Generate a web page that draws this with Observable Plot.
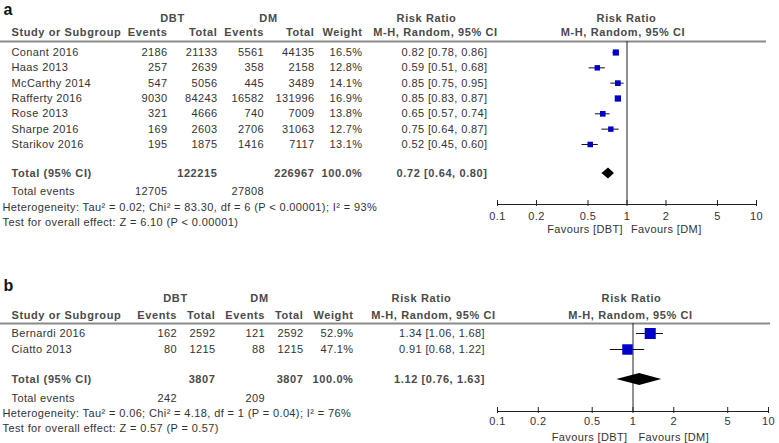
<!DOCTYPE html>
<html>
<head>
<meta charset="utf-8">
<script src="https://cdn.jsdelivr.net/npm/d3@7"></script>
<script src="https://cdn.jsdelivr.net/npm/@observablehq/plot@0.6"></script>
<style>
  html, body { margin: 0; padding: 0; background: #fff; }
  #chart { width: 779px; height: 443px; position: relative; overflow: hidden; font-family: "Liberation Sans", Arial, sans-serif; }
  #chart svg { display: block; }
  #chart svg text { letter-spacing: 0.38px; }
  #chart svg g[font-weight="bold"] text { letter-spacing: 0.6px; }
  #chart svg g.letter text { letter-spacing: 0; }
</style>
</head>
<body>
<div id="chart"></div>
<script>
// ---------- Panel a data ----------
const studiesA   = ["Conant 2016", "Haas 2013", "McCarthy 2014", "Rafferty 2016", "Rose 2013", "Sharpe 2016", "Starikov 2016"];
const dbtEventsA = [2186, 257, 547, 9030, 321, 169, 195];
const dbtTotalA  = [21133, 2639, 5056, 84243, 4666, 2603, 1875];
const dmEventsA  = [5561, 358, 445, 16582, 740, 2706, 1416];
const dmTotalA   = [44135, 2158, 3489, 131996, 7009, 31063, 7117];
const weightA    = [16.5, 12.8, 14.1, 16.9, 13.8, 12.7, 13.1];
const rrA        = [0.82, 0.59, 0.85, 0.85, 0.65, 0.75, 0.52];
const rrLowA     = [0.78, 0.51, 0.75, 0.83, 0.57, 0.64, 0.45];
const rrHighA    = [0.86, 0.68, 0.95, 0.87, 0.74, 0.87, 0.60];
const totalsA    = [122215, 226967];          // DBT total, DM total
const totalEventsA = [12705, 27808];          // DBT events, DM events
const pooledA    = [0.72, 0.64, 0.80];        // RR, low, high
const hetA  = "Heterogeneity: Tau\u00B2 = 0.02; Chi\u00B2 = 83.30, df = 6 (P < 0.00001); I\u00B2 = 93%";
const testA = "Test for overall effect: Z = 6.10 (P < 0.00001)";

// ---------- Panel b data ----------
const studiesB   = ["Bernardi 2016", "Ciatto 2013"];
const dbtEventsB = [162, 80];
const dbtTotalB  = [2592, 1215];
const dmEventsB  = [121, 88];
const dmTotalB   = [2592, 1215];
const weightB    = [52.9, 47.1];
const rrB        = [1.34, 0.91];
const rrLowB     = [1.06, 0.68];
const rrHighB    = [1.68, 1.22];
const totalsB    = [3807, 3807];
const totalEventsB = [242, 209];
const pooledB    = [1.12, 0.76, 1.63];
const hetB  = "Heterogeneity: Tau\u00B2 = 0.06; Chi\u00B2 = 4.18, df = 1 (P = 0.04); I\u00B2 = 76%";
const testB = "Test for overall effect: Z = 0.57 (P = 0.57)";

// ---------- Axis ticks ----------
const axisTicks  = [0.1, 0.2, 0.5, 1, 2, 5, 10];
const axisLabels = ["0.1", "0.2", "0.5", "1", "2", "5", "10"];

const TXT = "#333";
const BOLD = "#4a4a4a";
const BLUE = "#0000c8";
const f2 = v => v.toFixed(2);

function drawPanel(P) {
  const row = px => (px - P.row0) / P.step;   // layout helper: pixel -> row units
  const rows = P.studies.map((s, i) => ({
    i, s, de: String(P.dbtEv[i]), dt: String(P.dbtTot[i]), me: String(P.dmEv[i]), mt: String(P.dmTot[i]),
    w: P.weight[i].toFixed(1) + "%", wv: P.weight[i],
    rr: P.rr[i], lo: P.lo[i], hi: P.hi[i],
    rrText: `${f2(P.rr[i])} [${f2(P.lo[i])}, ${f2(P.hi[i])}]`
  }));
  const L = P.layout, C = P.cols;
  const col = (text, dx, anchor = "end") =>
    Plot.text(rows, {y: "i", text, frameAnchor: "left", dx, textAnchor: anchor, fill: TXT});
  const lab = (t, px, dx, anchor, bold, extra = {}) =>
    Plot.text([t], {y: row(px), text: d => d, frameAnchor: "left", dx, textAnchor: anchor,
      fill: bold ? BOLD : TXT, fontWeight: bold ? "bold" : "normal", ...extra});
  const rTot = row(L.total);
  const h = L.diamondHalf / P.step;
  const diamond = [
    {x: P.pooled[1], y1: rTot, y2: rTot},
    {x: P.pooled[0], y1: rTot - h, y2: rTot + h},
    {x: P.pooled[2], y1: rTot, y2: rTot}
  ];
  return Plot.plot({
    width: 779, height: P.height, margin: 0,
    style: {fontFamily: '"Liberation Sans", Arial, sans-serif', fontSize: "11px", background: "#fff", overflow: "visible"},
    x: {type: "log", domain: [0.1, 10], range: P.xRange, axis: null},
    y: {domain: [0, 1], range: [P.row0, P.row0 + P.step], axis: null},
    r: {type: "sqrt", domain: [0, 100], range: [0, 8.58]},
    marks: [
      // panel letter
      Plot.text([P.letter], {y: row(L.letter), text: d => d, frameAnchor: "left", dx: 3, textAnchor: "start",
        lineAnchor: "top", fontWeight: "bold", fontSize: 16, fill: "#111", className: "letter"}),
      // header rows
      lab("DBT", L.h1, C.dbtMid, "middle", true),
      lab("DM", L.h1, C.dmMid, "middle", true),
      lab("Risk Ratio", L.h1, C.rrHead1, "middle", true),
      lab("Risk Ratio", L.h1, C.rrHead2, "middle", true),
      lab("Study or Subgroup", L.h2, 11, "start", true),
      lab("Events", L.h2, C.de, "end", true),
      lab("Total", L.h2, C.dt, "end", true),
      lab("Events", L.h2, C.me, "end", true),
      lab("Total", L.h2, C.mt, "end", true),
      lab("Weight", L.h2, C.w, "end", true),
      lab("M-H, Random, 95% CI", L.h2, C.mh1, "middle", true),
      lab("M-H, Random, 95% CI", L.h2, C.mh2, "middle", true),
      // header separator
      Plot.ruleY([row(L.line)], {stroke: "#8a8a8a", strokeWidth: 2, insetRight: P.lineInsetRight}),
      // line of no effect
      Plot.ruleX([1], {y1: row(L.line), y2: row(L.axis), stroke: "#222", strokeWidth: 1}),
      // study rows
      col("s", 11, "start"),
      col("de", C.de), col("dt", C.dt), col("me", C.me), col("mt", C.mt), col("w", C.w),
      col("rrText", C.rr),
      // CIs and squares
      Plot.ruleY(rows, {y: "i", x1: "lo", x2: "hi", stroke: "#111", strokeWidth: 1}),
      Plot.dot(rows, {x: "rr", y: "i", r: "wv", symbol: "square", fill: BLUE, stroke: "none"}),
      // totals
      lab("Total (95% CI)", L.total, 11, "start", true),
      lab(String(P.totals[0]), L.total, C.dt, "end", true),
      lab(String(P.totals[1]), L.total, C.mt, "end", true),
      lab("100.0%", L.total, C.w, "end", true),
      lab(`${f2(P.pooled[0])} [${f2(P.pooled[1])}, ${f2(P.pooled[2])}]`, L.total, C.rr, "end", true),
      Plot.areaY(diamond, {x: "x", y1: "y1", y2: "y2", fill: "#000", curve: "linear"}),
      lab("Total events", L.events, 11, "start", false),
      lab(String(P.totalEvents[0]), L.events, C.de, "end", false),
      lab(String(P.totalEvents[1]), L.events, C.me, "end", false),
      lab(P.het, L.het, 2, "start", false),
      lab(P.test, L.test, 2, "start", false),
      // axis
      Plot.ruleY([row(L.axis)], {x1: 0.1, x2: 10, stroke: "#222", strokeWidth: 1}),
      Plot.ruleX(axisTicks, {x: d => d, y1: row(L.axis - 4), y2: row(L.axis + 2), stroke: "#222", strokeWidth: 1}),
      Plot.text(axisTicks, {x: d => d, y: row(L.tickLabel), text: (d, i) => axisLabels[i], textAnchor: "middle", fill: TXT}),
      Plot.text(["Favours [DBT]"], {x: 1, y: row(L.favours), text: d => d, dx: -P.favDx, textAnchor: "end", fill: TXT}),
      Plot.text(["Favours [DM]"], {x: 1, y: row(L.favours), text: d => d, dx: P.favDx, textAnchor: "start", fill: TXT})
    ]
  });
}

const panelA = drawPanel({
  letter: "a", height: 240, xRange: [497, 756], row0: 52, step: 15.33,
  studies: studiesA, dbtEv: dbtEventsA, dbtTot: dbtTotalA, dmEv: dmEventsA, dmTot: dmTotalA,
  weight: weightA, rr: rrA, lo: rrLowA, hi: rrHighA, totals: totalsA, totalEvents: totalEventsA,
  pooled: pooledA, het: hetA, test: testA, lineInsetRight: 13, favDx: 4,
  layout: {letter: 3.5, h1: 18, h2: 32, line: 41, total: 173, events: 191, het: 207, test: 222,
           axis: 204, tickLabel: 216, favours: 228.5, diamondHalf: 5.5},
  cols: {dbtMid: 172, dmMid: 268, rrHead1: 426, rrHead2: 626, de: 167, dt: 217, me: 263.5, mt: 314,
         w: 362, rr: 487, mh1: 435, mh2: 622.5}
});
const panelB = drawPanel({
  letter: "b", height: 203, xRange: [497, 768], row0: 93, step: 16,
  studies: studiesB, dbtEv: dbtEventsB, dbtTot: dbtTotalB, dmEv: dmEventsB, dmTot: dmTotalB,
  weight: weightB, rr: rrB, lo: rrLowB, hi: rrHighB, totals: totalsB, totalEvents: totalEventsB,
  pooled: pooledB, het: hetB, test: testB, lineInsetRight: 9, favDx: 5.5,
  layout: {letter: 39.5, h1: 58, h2: 75, line: 83, total: 139, events: 158, het: 173, test: 188,
           axis: 171, tickLabel: 181, favours: 197, diamondHalf: 6},
  cols: {dbtMid: 175, dmMid: 259, rrHead1: 421, rrHead2: 631, de: 176.5, dt: 215, me: 264.5, mt: 303,
         w: 353, rr: 484.5, mh1: 433, mh2: 630}
});
const chart = document.getElementById("chart");
chart.appendChild(panelA);
chart.appendChild(panelB);
</script>
</body>
</html>
